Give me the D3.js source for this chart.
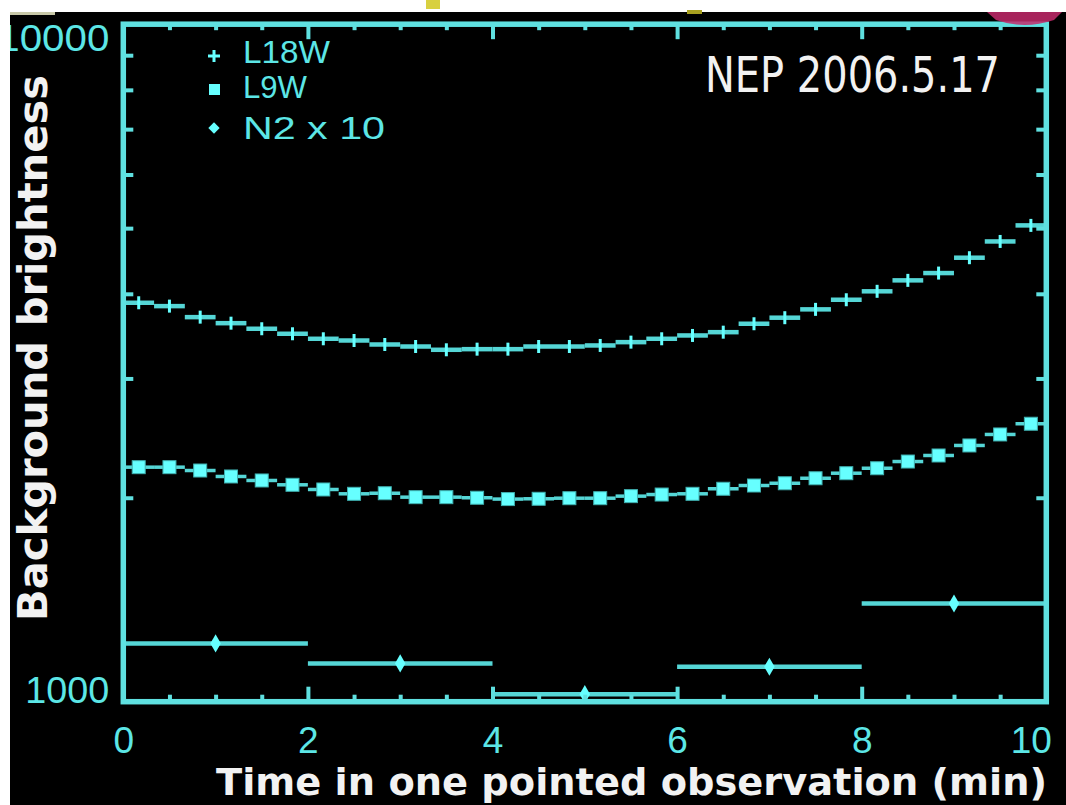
<!DOCTYPE html>
<html>
<head>
<meta charset="utf-8">
<script src="https://cdn.jsdelivr.net/npm/d3@7"></script>
<style>
body { margin: 0; background: #fff; }
svg { display: block; }
</style>
</head>
<body>
<div id="chart"></div>
<script>
// values (background brightness, log axis)
var l18wTime = [0.167, 0.5, 0.833, 1.167, 1.5, 1.833, 2.167, 2.5, 2.833, 3.167, 3.5, 3.833, 4.167, 4.5, 4.833,
                5.167, 5.5, 5.833, 6.167, 6.5, 6.833, 7.167, 7.5, 7.833, 8.167, 8.5, 8.833, 9.167, 9.5, 9.833];
var l18wValue = [3880, 3836, 3695, 3620, 3552, 3492, 3433, 3413, 3367, 3344, 3307, 3314, 3314, 3344, 3344,
                 3356, 3394, 3433, 3472, 3511, 3613, 3688, 3794, 3920, 4034, 4187, 4292, 4522, 4779, 5047];
var l9wTime = l18wTime;
var l9wValue = [2219, 2219, 2194, 2150, 2121, 2090, 2057, 2027, 2031, 2004, 2004, 2000, 1991, 1993, 1997,
                1997, 2011, 2022, 2027, 2062, 2085, 2101, 2137, 2174, 2211, 2262, 2309, 2389, 2480, 2572];
var n2Time = [1, 3, 5, 7, 9];
var n2Value = [1219, 1139, 1026, 1126, 1396];
var shortBin = 1 / 6;   // half width of the L18W / L9W bars (min)
var longBin = 1;        // half width of the N2 bars (min)

var xMajor = [0, 2, 4, 6, 8, 10];
var xMinor = [0.5, 1, 1.5, 2.5, 3, 3.5, 4.5, 5, 5.5, 6.5, 7, 7.5, 8.5, 9, 9.5];
var yMajor = [1000, 10000];
var yMinor = [2000, 3000, 4000, 5000, 6000, 7000, 8000, 9000];

var legendLabels = ["L18W", "L9W", "N2 x 10"];
var plotTitle = "NEP 2006.5.17";
var xTitle = "Time in one pointed observation (min)";
var yTitle = "Background brightness";

var cyan = "#66ffff", cyanDim = "#55d6d6", axisCol = "#5fe0e0";

var svg = d3.select("#chart").append("svg")
  .attr("width", 1066)
  .attr("height", 805);

svg.append("rect").attr("width", 1066).attr("height", 805).attr("fill", "#fff");
svg.append("rect").attr("x", 10).attr("y", 12).attr("width", 1056).attr("height", 793).attr("fill", "#000");

var x = d3.scaleLinear().domain([0, 10]).range([123.3, 1046.3]);
var y = d3.scaleLog().domain([1000, 10000]).range([701.7, 24.2]);

var plot = svg.append("g");

// L18W : bars + crosses
var l18w = d3.range(l18wTime.length).map(function(i) { return {t: l18wTime[i], v: l18wValue[i]}; });
plot.selectAll(".l18bar").data(l18w).enter().append("line")
  .attr("x1", function(d) { return x(d.t - shortBin); })
  .attr("x2", function(d) { return x(d.t + shortBin); })
  .attr("y1", function(d) { return y(d.v); })
  .attr("y2", function(d) { return y(d.v); })
  .attr("stroke", cyanDim).attr("stroke-width", 4.5);
plot.selectAll(".l18v").data(l18w).enter().append("line")
  .attr("x1", function(d) { return x(d.t); })
  .attr("x2", function(d) { return x(d.t); })
  .attr("y1", function(d) { return y(d.v) - 6.5; })
  .attr("y2", function(d) { return y(d.v) + 6.5; })
  .attr("stroke", cyan).attr("stroke-width", 3);

// L9W : bars + squares
var l9w = d3.range(l9wTime.length).map(function(i) { return {t: l9wTime[i], v: l9wValue[i]}; });
plot.selectAll(".l9bar").data(l9w).enter().append("line")
  .attr("x1", function(d) { return x(d.t - shortBin); })
  .attr("x2", function(d) { return x(d.t + shortBin); })
  .attr("y1", function(d) { return y(d.v); })
  .attr("y2", function(d) { return y(d.v); })
  .attr("stroke", cyanDim).attr("stroke-width", 3.5);
plot.selectAll(".l9sq").data(l9w).enter().append("rect")
  .attr("x", function(d) { return x(d.t) - 6.5; })
  .attr("y", function(d) { return y(d.v) - 6.5; })
  .attr("width", 13).attr("height", 13)
  .attr("fill", cyan).attr("stroke", "#3fb0b0").attr("stroke-width", 1);

// N2 x 10 : long bars + diamonds
var n2 = d3.range(n2Time.length).map(function(i) { return {t: n2Time[i], v: n2Value[i]}; });
plot.selectAll(".n2bar").data(n2).enter().append("line")
  .attr("x1", function(d) { return x(d.t - longBin); })
  .attr("x2", function(d) { return x(d.t + longBin); })
  .attr("y1", function(d) { return y(d.v); })
  .attr("y2", function(d) { return y(d.v); })
  .attr("stroke", cyanDim).attr("stroke-width", 4.5);
plot.selectAll(".n2pt").data(n2).enter().append("path")
  .attr("d", d3.symbol().type(d3.symbolDiamond).size(95))
  .attr("transform", function(d) { return "translate(" + x(d.t) + "," + y(d.v) + ")"; })
  .attr("fill", cyan);

// frame
svg.append("rect")
  .attr("x", x(0)).attr("y", y(10000))
  .attr("width", x(10) - x(0)).attr("height", y(1000) - y(10000))
  .attr("fill", "none").attr("stroke", axisCol).attr("stroke-width", 5.5);

function styleAxis(g) {
  g.select(".domain").remove();
  g.selectAll(".tick line").attr("stroke", axisCol).attr("stroke-width", 4);
  g.selectAll(".tick text").attr("fill", "#5ce6e6");
  g.attr("font-family", "'Liberation Sans', Arial, sans-serif").attr("font-size", 37);
}

// bottom
var xAx = svg.append("g").attr("transform", "translate(0," + y(1000) + ")")
  .call(d3.axisBottom(x).tickValues(xMajor).tickSize(-15).tickPadding(25).tickFormat(d3.format("d")))
  .call(styleAxis);
// last label sits against the right edge, as in the original
xAx.selectAll(".tick text").filter(function(d) { return d === 10; })
  .attr("text-anchor", "end").attr("dx", 5);
svg.append("g").attr("transform", "translate(0," + y(1000) + ")")
  .call(d3.axisBottom(x).tickValues(xMinor).tickSize(-7).tickFormat(""))
  .call(styleAxis);
// top
svg.append("g").attr("transform", "translate(0," + y(10000) + ")")
  .call(d3.axisTop(x).tickValues(xMajor).tickSize(-15).tickFormat(""))
  .call(styleAxis);
svg.append("g").attr("transform", "translate(0," + y(10000) + ")")
  .call(d3.axisTop(x).tickValues(xMinor).tickSize(-6).tickFormat(""))
  .call(styleAxis);
// left
var yAx = svg.append("g").attr("transform", "translate(" + x(0) + ",0)")
  .call(d3.axisLeft(y).tickValues(yMajor).tickSize(0).tickPadding(14).tickFormat(d3.format("d")))
  .call(styleAxis);
yAx.selectAll(".tick text")
  .attr("dy", function(d) { return d === 10000 ? "0.72em" : "0.02em"; })
  .attr("textLength", function(d) { return d === 10000 ? 112 : 84; })
  .attr("lengthAdjust", "spacingAndGlyphs");
svg.append("g").attr("transform", "translate(" + x(0) + ",0)")
  .call(d3.axisLeft(y).tickValues(yMinor).tickSize(-10).tickFormat(""))
  .call(styleAxis);
// right
svg.append("g").attr("transform", "translate(" + x(10) + ",0)")
  .call(d3.axisRight(y).tickValues(yMinor).tickSize(-10).tickFormat(""))
  .call(styleAxis);

// legend
var legend = svg.append("g");
var legY = [56, 90, 128];
var legBase = [63, 98, 139];
legend.append("line").attr("x1", 208).attr("x2", 220).attr("y1", legY[0]).attr("y2", legY[0])
  .attr("stroke", cyan).attr("stroke-width", 3);
legend.append("line").attr("x1", 214).attr("x2", 214).attr("y1", legY[0] - 6).attr("y2", legY[0] + 6)
  .attr("stroke", cyan).attr("stroke-width", 3);
legend.append("rect").attr("x", 209).attr("y", legY[1] - 6).attr("width", 11).attr("height", 11)
  .attr("fill", cyan);
legend.append("path")
  .attr("d", d3.symbol().type(d3.symbolSquare).size(64))
  .attr("transform", "translate(214," + legY[2] + ") rotate(45)")
  .attr("fill", cyan);
var legW = [87, 64, 142];
legend.selectAll("text").data(legendLabels).enter().append("text")
  .attr("x", 243)
  .attr("y", function(d, i) { return legBase[i]; })
  .attr("textLength", function(d, i) { return legW[i]; })
  .attr("lengthAdjust", "spacingAndGlyphs")
  .attr("font-family", "'Liberation Sans', Arial, sans-serif")
  .attr("font-size", 31)
  .attr("fill", "#5ce6e6")
  .text(function(d) { return d; });

// annotation and titles
svg.append("text")
  .attr("x", 705).attr("y", 92)
  .attr("textLength", 295).attr("lengthAdjust", "spacingAndGlyphs")
  .attr("font-family", "'DejaVu Sans', sans-serif").attr("font-size", 50)
  .attr("fill", "#f2f2f2")
  .text(plotTitle);

svg.append("text")
  .attr("x", 216).attr("y", 795)
  .attr("textLength", 831).attr("lengthAdjust", "spacingAndGlyphs")
  .attr("font-family", "'DejaVu Sans', sans-serif").attr("font-weight", "bold").attr("font-size", 38)
  .attr("fill", "#f2f2f2")
  .text(xTitle);

svg.append("text")
  .attr("transform", "translate(47,348) rotate(-90)")
  .attr("text-anchor", "middle")
  .attr("textLength", 546).attr("lengthAdjust", "spacingAndGlyphs")
  .attr("font-family", "'DejaVu Sans', sans-serif").attr("font-weight", "bold").attr("font-size", 40)
  .attr("fill", "#f2f2f2")
  .text(yTitle);

// white border of the cropped figure
svg.append("rect").attr("x", 0).attr("y", 0).attr("width", 10).attr("height", 805).attr("fill", "#fff");
svg.append("rect").attr("x", 0).attr("y", 0).attr("width", 1066).attr("height", 12).attr("fill", "#fff");

// crop leftovers at the top edge
svg.append("path")
  .attr("d", "M987,12 L1062,12 L1054,20 Q1024,30 996,20 Z")
  .attr("fill", "#c42a6c").attr("opacity", 0.85);
svg.append("rect").attr("x", 426).attr("y", 0).attr("width", 14).attr("height", 9).attr("fill", "#d8d040");
svg.append("rect").attr("x", 687).attr("y", 10).attr("width", 15).attr("height", 4).attr("fill", "#a8a020");
svg.append("rect").attr("x", 10).attr("y", 12).attr("width", 45).attr("height", 3).attr("fill", "#c8c8a8");
</script>
</body>
</html>
